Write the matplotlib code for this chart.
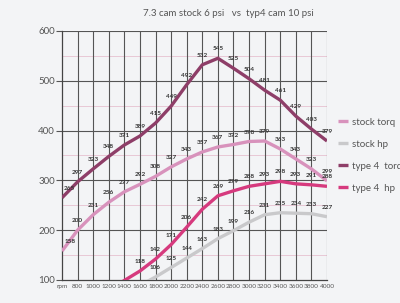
import matplotlib
matplotlib.use("Agg")
import matplotlib.pyplot as plt
import numpy as np

plt.rcParams['font.family'] = ['Lato', 'DejaVu Sans']

categories = ['rpm', '800', '1000', '1200', '1400', '1600', '1800', '2000', '2200',
              '2400', '2600', '2800', '3000', '3200', '3400', '3600', '3800', '4000']
stock_torq = [158, 200, 231, 256, 277, 292, 308, 327, 343, 357, 367, 372, 378, 379, 363, 343, 323, 299]
stock_hp = [None, None, None, None, None, 89, 106, 125, 144, 163, 183, 199, 216, 231, 235, 234, 233, 227]
type4_torq = [265, 297, 323, 348, 371, 389, 415, 449, 492, 532, 545, 525, 504, 481, 461, 429, 403, 379]
type4_hp = [None, None, None, 80, 99, 118, 142, 171, 206, 242, 269, 279, 288, 293, 298, 293, 291, 288]

series = [
    ('stock torq', stock_torq, '#d892bc'),
    ('stock hp', stock_hp, '#c9c9cb'),
    ('type 4  torq', type4_torq, '#8e3e68'),
    ('type 4  hp', type4_hp, '#d63a7e'),
]

bg = '#f3f4f6'
fig = plt.figure(figsize=(4.0, 3.03), dpi=100, facecolor=bg)
ax = fig.add_axes([0.155, 0.076, 0.6625, 0.822])
ax.set_facecolor(bg)

x = np.arange(len(categories))
ax.set_xlim(0, len(categories) - 1)
ax.set_ylim(100, 600)

# grid
for yv in [150, 250, 350, 450, 550]:
    ax.axhline(yv, color='#e8c8d6', lw=0.7, zorder=1)
for yv in [200, 300, 400, 500, 600]:
    ax.axhline(yv, color='#555555', lw=0.8, zorder=1)
for xv in x[1:]:
    ax.axvline(xv, color='#555555', lw=0.8, zorder=1)

handles = []
for name, vals, col in series:
    xs = [xi for xi, v in zip(x, vals) if v is not None]
    ys = [v for v in vals if v is not None]
    h, = ax.plot(xs, ys, color=col, lw=2.4, solid_capstyle='butt', zorder=3, label=name,
                 clip_on=True)
    handles.append(h)
    for xi, v in zip(xs, ys):
        if v < 100:
            continue
        dx = 0.5 if xi == 0 else 0
        ax.annotate(str(v), (xi + dx, v), xytext=(0, 5), textcoords='offset points',
                    ha='center', va='bottom', fontsize=4.6, fontweight='bold',
                    color='#333333', zorder=4, annotation_clip=False)

ax.set_xticks(x)
ax.set_xticklabels(categories, fontsize=4.6, color='#555555')
ax.tick_params(axis='x', length=0, pad=3)
ax.set_yticks([100, 200, 300, 400, 500, 600])
ax.tick_params(axis='y', labelsize=7, colors='#555555', length=4, width=0.8, direction='out', pad=1)
for s in ['top', 'right']:
    ax.spines[s].set_visible(False)
for s in ['left', 'bottom']:
    ax.spines[s].set_color('#444444')
    ax.spines[s].set_linewidth(0.9)

fig.text(0.57, 0.955, '7.3 cam stock 6 psi   vs  typ4 cam 10 psi', ha='center', va='center',
         fontsize=7, color='#555555')

fig.legend(handles=handles, loc='upper left', bbox_to_anchor=(0.835, 0.625),
           frameon=False, fontsize=7, labelcolor='#555555', handlelength=1.0,
           handletextpad=0.4, labelspacing=1.35, borderaxespad=0)

fig.savefig('out.png', dpi=100, facecolor=bg)
